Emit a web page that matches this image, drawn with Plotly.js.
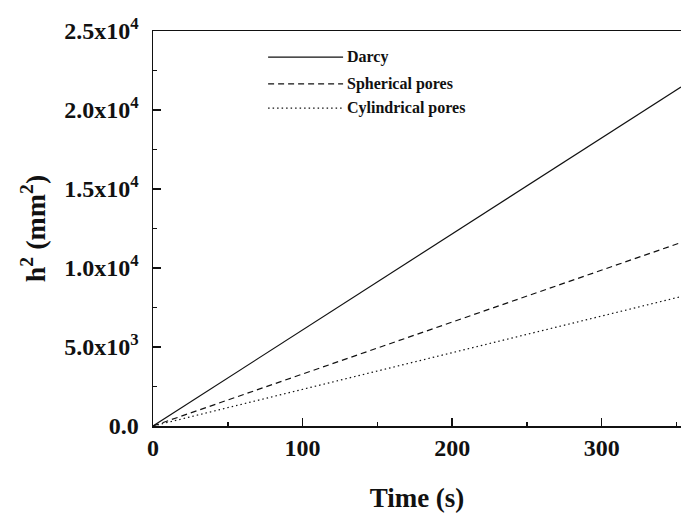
<!DOCTYPE html>
<html>
<head>
<meta charset="utf-8">
<script src="https://cdn.plot.ly/plotly-3.0.1.min.js"></script>
<style>html,body{margin:0;padding:0;background:#fff;}#chart{width:681px;height:515px;}</style>
</head>
<body>
<div id="chart"></div>
<script>
const time = [0, 100, 200, 300, 353];
const darcy = [0, 6080, 12160, 18240, 21460];
const spherical = [0, 3290, 6580, 9870, 11610];
const cylindrical = [0, 2320, 4640, 6960, 8190];
const seriesNames = ['Darcy', 'Spherical pores', 'Cylindrical pores'];
const seriesDash = ['solid', '6px,4px', '1.5px,3px'];
const yTickVals = [0, 5000, 10000, 15000, 20000, 25000];
const yTickText = ['0.0', '5.0x10<sup>3</sup>', '1.0x10<sup>4</sup>', '1.5x10<sup>4</sup>', '2.0x10<sup>4</sup>', '2.5x10<sup>4</sup>'];
const xTickVals = [0, 100, 200, 300];
const xTickText = ['0', '100', '200', '300'];

const FONT = 'Liberation Serif, Times New Roman, serif';
const seriesY = [darcy, spherical, cylindrical];
const traces = seriesY.map((ys, i) => ({
  x: time, y: ys, name: seriesNames[i], mode: 'lines', showlegend: false,
  line: {color: '#111', width: 1.2, dash: seriesDash[i]}
}));

// manual legend (long line samples like the reference)
const legX0 = 0.218, legX1 = 0.360, legTextX = 0.364;
const legY = [0.934, 0.866, 0.805];
const shapes = seriesNames.map((n, i) => ({
  type: 'line', xref: 'paper', yref: 'paper', x0: legX0, x1: legX1, y0: legY[i], y1: legY[i],
  line: {color: '#111', width: 1.2, dash: seriesDash[i]}
}));
const annotations = seriesNames.map((n, i) => ({
  xref: 'paper', yref: 'paper', x: legTextX, y: legY[i], xanchor: 'left', yanchor: 'middle',
  text: n, showarrow: false, font: {family: FONT, size: 16, weight: 'bold', color: '#111'}
}));

const layout = {
  width: 681, height: 515,
  margin: {l: 153, r: 0, t: 31, b: 89},
  paper_bgcolor: '#fff', plot_bgcolor: '#fff',
  font: {family: FONT, color: '#111'},
  showlegend: false,
  shapes: shapes, annotations: annotations,
  xaxis: {
    range: [0, 353], showgrid: false, zeroline: false,
    showline: true, linecolor: '#111', linewidth: 1.5, mirror: true,
    ticks: 'inside', ticklen: 8, tickwidth: 1.5, tickcolor: '#111',
    tickvals: xTickVals, ticktext: xTickText,
    minor: {ticks: 'inside', ticklen: 4, tickwidth: 1.5, tickcolor: '#111', dtick: 50, tick0: 0, showgrid: false},
    tickfont: {family: FONT, size: 24, weight: 'bold', color: '#111'},
    title: {text: 'Time (s)', font: {family: FONT, size: 27, weight: 'bold', color: '#111'}, standoff: 28}
  },
  yaxis: {
    range: [0, 25000], showgrid: false, zeroline: false,
    showline: true, linecolor: '#111', linewidth: 1.5,
    ticks: 'inside', ticklen: 8, tickwidth: 1.5, tickcolor: '#111',
    tickvals: yTickVals, ticktext: yTickText,
    minor: {ticks: 'inside', ticklen: 4, tickwidth: 1.5, tickcolor: '#111', dtick: 2500, tick0: 0, showgrid: false},
    tickfont: {family: FONT, size: 24, weight: 'bold', color: '#111'},
    ticklabelstandoff: 8,
    title: {text: 'h<sup>2</sup> (mm<sup>2</sup>)', font: {family: FONT, size: 28, weight: 'bold', color: '#111'}, standoff: 10}
  }
};
Plotly.newPlot('chart', traces, layout, {displayModeBar: false, staticPlot: true});
</script>
</body>
</html>
